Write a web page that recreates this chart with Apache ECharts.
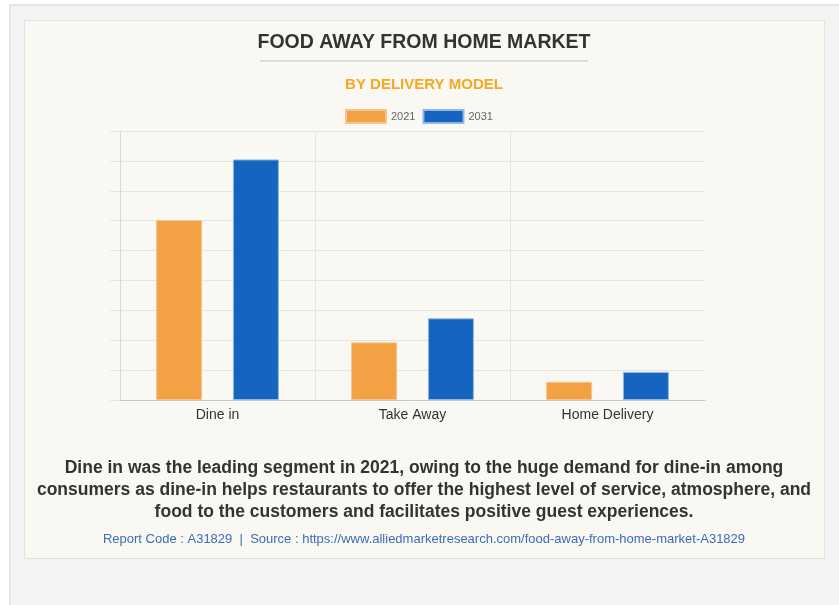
<!DOCTYPE html>
<html>
<head>
<meta charset="utf-8">
<script src="https://cdn.jsdelivr.net/npm/echarts@6/dist/echarts.min.js"></script>
<style>
  html, body { margin: 0; padding: 0; background: #ffffff; }
  #chart { width: 839px; height: 605px; }
</style>
</head>
<body>
<div id="chart"></div>
<script>
// categories and values (axis units)
var categories = ['Dine in', 'Take Away', 'Home Delivery'];
var seriesNames = ['2021', '2031'];
var values2021 = [1505, 482, 152];
var values2031 = [2012, 683, 235];
var yMax = 2250;
var yInterval = 250;

var titleText = 'FOOD AWAY FROM HOME MARKET';
var subtitleText = 'BY DELIVERY MODEL';
var noteLines = [
    'Dine in was the leading segment in 2021, owing to the huge demand for dine-in among',
    'consumers as dine-in helps restaurants to offer the highest level of service, atmosphere, and',
    'food to the customers and facilitates positive guest experiences.'
];
var sourceText = 'Report Code : A31829  |  Source : https://www.alliedmarketresearch.com/food-away-from-home-market-A31829';

var font = "'Liberation Sans', Arial, sans-serif";

function centerText(txt, y, css, color) {
    return {
        type: 'text', x: 424, y: y,
        style: { text: txt, align: 'center', verticalAlign: 'middle', font: css + ' ' + font, fill: color }
    };
}

var graphics = [
    // outer grey box
    { type: 'rect', z: -10, shape: { x: 10, y: 5, width: 840, height: 620 },
      style: { fill: '#f4f4f4', stroke: '#e6e6e6', lineWidth: 2 } },
    // cream panel
    { type: 'rect', z: -9, shape: { x: 24.5, y: 20.5, width: 800, height: 538 },
      style: { fill: '#f9f8f3', stroke: '#e2e2e0', lineWidth: 1 } },
    // title underline
    { type: 'rect', z: -8, shape: { x: 260, y: 60, width: 328, height: 2 },
      style: { fill: '#dcdcdc' } },
    centerText(titleText, 43, 'bold 19.5px', '#333333'),
    centerText(subtitleText, 85, 'bold 15px', '#f7a823'),
    centerText(sourceText, 539, '13px', '#3b6db3')
];
noteLines.forEach(function (line, i) {
    graphics.push(centerText(line, 468 + i * 22, 'bold 17.5px', '#333333'));
});

var chart = echarts.init(document.getElementById('chart'));
chart.setOption({
    backgroundColor: '#ffffff',
    textStyle: { fontFamily: font },
    graphic: graphics,
    legend: {
        data: seriesNames,
        left: 340, top: 104,
        itemWidth: 40, itemHeight: 13, itemGap: 7,
        icon: 'rect',
        textStyle: { fontSize: 11, color: '#666666' }
    },
    grid: { left: 120, right: 134, top: 131, bottom: 205, containLabel: false },
    xAxis: {
        type: 'category',
        data: categories,
        boundaryGap: true,
        axisLine: { lineStyle: { color: '#c8c8c8' } },
        axisTick: { length: 8, lineStyle: { color: '#dedede' } },
        splitLine: { show: true, showMaxLine: false, lineStyle: { color: '#e4e4e2' } },
        axisLabel: { color: '#333333', fontSize: 14, margin: 8 }
    },
    yAxis: {
        type: 'value',
        min: 0, max: yMax, interval: yInterval,
        axisLabel: { show: false },
        axisLine: { show: true, lineStyle: { color: '#d8d8d8' } },
        axisTick: { show: true, length: 10, lineStyle: { color: '#e4e4e2' } },
        splitLine: { lineStyle: { color: '#e4e4e2' } }
    },
    series: [
        {
            name: seriesNames[0], type: 'bar', data: values2021,
            barWidth: 46, barGap: '67%',
            itemStyle: { color: '#f2a244', borderColor: '#f7c58a', borderWidth: 1 }
        },
        {
            name: seriesNames[1], type: 'bar', data: values2031,
            barWidth: 46,
            itemStyle: { color: '#1565c0', borderColor: '#8fb8e6', borderWidth: 1 }
        }
    ]
});
</script>
</body>
</html>
